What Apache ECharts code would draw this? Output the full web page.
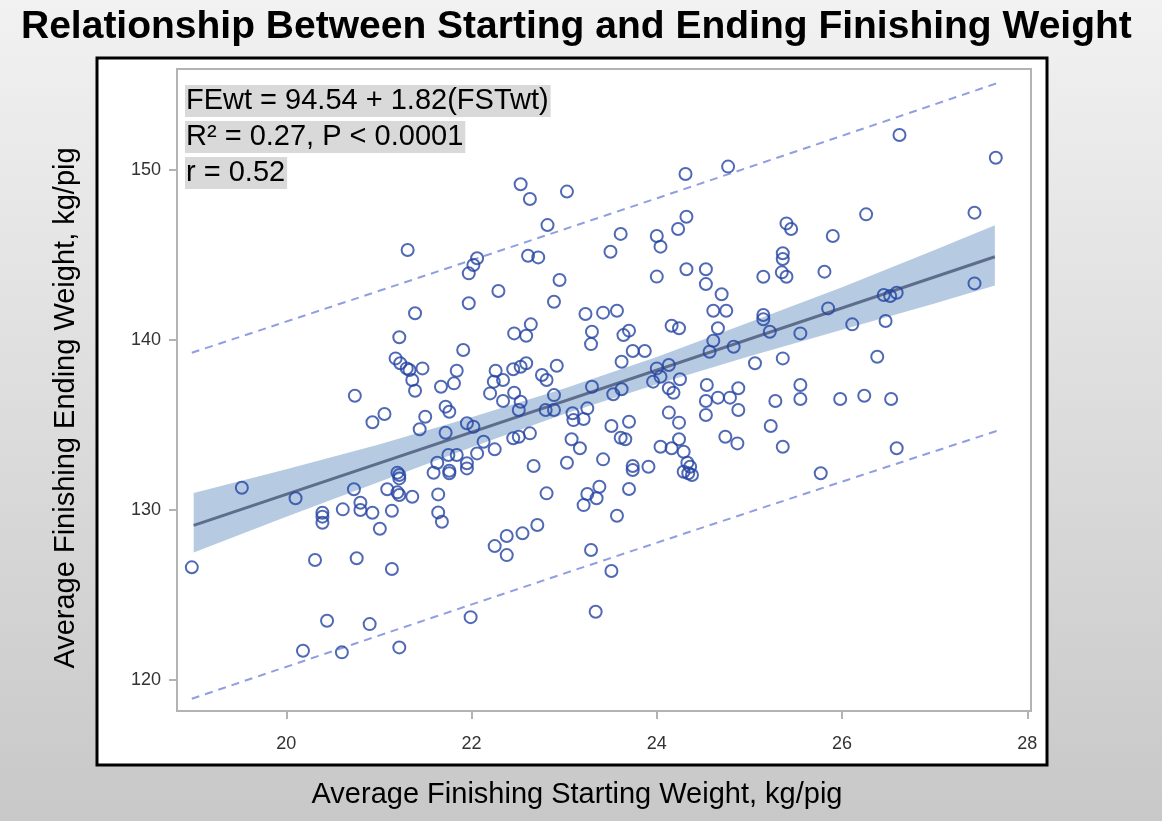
<!DOCTYPE html>
<html lang="en" style="height: 100%">
    <head>
        <meta charset="utf-8" />
    </head>
    <body style="height: 100%; margin: 0">
        <div id="container" style="width: 1162px; height: 821px"></div>

        <script
            type="text/javascript"
            src="https://fastly.jsdelivr.net/npm/echarts@6/dist/echarts.min.js"
        ></script>

        <script type="text/javascript">
            // starting weight (x) and ending weight (y) per pen
            var startWt = [
                18.98, 19.52, 20.10, 20.39, 20.39, 20.39, 20.61, 20.80, 20.80, 20.93,
                21.01, 21.09, 21.14, 21.20, 21.22, 21.22, 21.20, 21.22, 21.36, 21.63,
                21.59, 21.76, 21.76, 21.75, 21.84, 21.64, 21.64, 21.68, 21.95, 21.95,
                20.31, 20.76, 21.14, 20.44, 20.90, 20.18, 20.60, 21.22, 21.99, 20.73,
                21.31, 21.39, 21.22, 21.91, 21.97, 22.02, 22.06, 21.97, 21.18, 21.23,
                21.30, 21.33, 21.47, 21.36, 21.39, 20.74, 20.93, 21.06, 21.50, 21.44,
                21.67, 21.81, 21.84, 21.72, 21.76, 21.72, 21.95,
                22.53, 22.63, 23.03, 24.31, 24.77, 22.82, 23.61, 24.00, 24.04, 24.23,
                24.32, 23.50, 22.61, 22.72, 22.95, 24.00, 24.32, 24.53, 24.53, 24.70,
                24.61, 24.75, 24.66, 24.61, 24.57, 22.29, 22.89, 23.23, 23.42, 23.57,
                22.64, 22.46, 22.59, 23.30, 23.29, 23.70, 23.64, 24.16, 24.24, 23.74,
                23.87,
                23.62, 22.92, 22.59, 22.53, 22.45, 22.26, 22.24, 22.34, 22.76, 22.81,
                22.20, 22.34, 22.46, 22.53, 22.51, 22.89, 22.80, 22.89, 23.30, 23.53,
                23.62, 24.00, 24.13, 24.04, 23.96, 24.13, 24.18, 24.25, 24.54, 24.53,
                24.66, 24.79, 24.88, 24.88, 24.53, 24.83, 22.02, 23.09, 23.10, 23.21,
                23.25, 23.51, 23.70, 23.61, 23.66, 23.08, 23.17, 24.13, 24.24, 24.24,
                24.04, 24.16, 24.29, 24.74, 24.87, 22.45, 22.51, 22.63, 22.13, 22.25,
                22.06, 22.67, 23.03, 23.42, 23.74, 23.74, 23.91, 24.33, 24.36, 24.29,
                24.34, 24.38, 23.70, 23.38, 23.25, 23.35, 23.21, 22.81, 23.57, 22.71,
                22.55, 22.38,
                22.25, 22.38, 23.29, 23.51, 23.34,
                26.62, 27.66, 26.26, 27.43, 25.40, 25.45, 25.90, 25.36, 25.36, 25.35,
                25.40, 25.15, 25.81, 27.43,
                26.45, 26.52, 26.59, 25.15, 25.15, 25.85, 26.47, 26.11, 25.22, 25.55,
                25.06, 25.36, 26.38, 25.55, 25.28, 25.55, 25.98, 26.24, 26.53, 25.23,
                25.36, 26.59, 25.77
            ];
            var endWt = [
                126.63, 131.31, 130.69, 129.84, 129.61, 129.25, 130.04, 130.43, 130.00, 129.84,
                128.90, 131.22, 129.96, 132.20, 132.06, 131.86, 131.04, 130.88, 130.78, 132.78,
                132.19, 132.31, 132.16, 133.24, 133.24, 130.92, 129.86, 129.31, 132.75, 132.45,
                127.06, 127.16, 126.53, 123.49, 123.29, 121.72, 121.63, 121.92, 123.70, 131.22,
                145.29, 141.57, 140.16, 139.41, 143.92, 144.41, 144.81, 142.16, 138.92, 138.63,
                138.33, 138.24, 138.33, 137.65, 137.02, 136.72, 135.16, 135.65, 135.49, 134.75,
                137.25, 137.45, 138.19, 136.08, 135.78, 134.55, 135.10,
                149.16, 148.29, 148.73, 149.76, 150.20, 146.76, 146.24, 146.12, 145.49, 146.53,
                147.25, 145.19, 144.96, 144.86, 143.53, 143.73, 144.16, 144.16, 143.29, 142.69,
                141.72, 141.72, 140.69, 139.96, 139.31, 142.88, 142.25, 141.53, 141.61, 141.72,
                140.92, 140.39, 140.25, 140.49, 139.76, 140.55, 140.29, 140.84, 140.69, 139.35,
                139.35,
                138.72, 138.49, 138.63, 138.43, 138.28, 138.19, 137.55, 137.65, 137.94, 137.65,
                136.86, 136.41, 136.90, 136.37, 135.88, 136.76, 135.88, 135.88, 137.25, 136.81,
                137.10, 138.33, 138.53, 137.84, 137.55, 137.16, 136.90, 137.69, 137.35, 136.41,
                136.61, 136.61, 137.16, 135.88, 135.59, 139.60, 134.90, 135.69, 135.29, 135.35,
                135.98, 134.94, 135.19, 134.25, 134.16, 134.16, 133.63, 135.73, 135.14, 134.16,
                133.72, 133.63, 133.43, 134.31, 133.92, 134.22, 134.31, 134.51, 134.02, 133.57,
                133.33, 132.59, 132.78, 132.98, 132.59, 132.35, 132.55, 132.78, 132.55, 132.25,
                132.16, 132.06, 131.24, 131.37, 130.94, 130.69, 130.29, 130.98, 129.66, 129.12,
                128.63, 128.47,
                127.88, 127.35, 127.65, 126.41, 124.02,
                152.06, 150.72, 147.39, 147.49, 146.86, 146.53, 146.12, 145.10, 144.76, 143.98,
                143.72, 143.72, 144.02, 143.33,
                142.65, 142.59, 142.78, 141.47, 141.22, 141.86, 141.12, 140.92, 140.49, 140.39,
                138.63, 138.92, 139.02, 137.35, 136.41, 136.53, 136.53, 136.72, 136.53, 134.94,
                133.72, 133.63, 132.16
            ];

            // fitted line
            var fitX = [19.0, 27.65];
            var fitY = [129.1, 144.9];

            // 95% confidence band of the mean
            var bandX = [19.0, 20, 21, 22, 23, 24, 25, 26, 27, 27.65];
            var bandLower = [127.5, 129.6, 131.65, 133.7, 135.65, 137.4, 139.05, 140.6, 142.15, 143.2];
            var bandUpper = [131.0, 132.4, 133.85, 135.45, 137.15, 139.0, 141.05, 143.1, 145.3, 146.75];

            // 95% prediction limits
            var predX = [18.98, 23.46, 27.67];
            var predUpper = [139.25, 147.35, 155.1];
            var predLower = [118.9, 127.1, 134.65];

            var xTicks = [20, 22, 24, 26, 28];
            var yTicks = [120, 130, 140, 150];

            var statLines = [
                'FEwt = 94.54 + 1.82(FSTwt)',
                'R\u00b2 = 0.27, P < 0.0001',
                'r = 0.52'
            ];

            function pairs(xs, ys) {
                return xs.map(function (x, i) {
                    return [x, ys[i]];
                });
            }

            var dom = document.getElementById('container');
            var myChart = echarts.init(dom, null, { renderer: 'canvas' });
            var font = "'Liberation Sans', Arial, sans-serif";
            var frameColor = '#b3b3b3';

            var statBoxes = statLines.map(function (t, i) {
                return {
                    type: 'text',
                    left: 185,
                    top: [85, 121, 157][i],
                    z: 10,
                    style: {
                        text: t,
                        font: '29px ' + font,
                        fill: '#000',
                        backgroundColor: '#d9d9d9',
                        padding: [1, 2, 1, 1],
                        lineHeight: 30
                    }
                };
            });

            var option = {
                backgroundColor: {
                    type: 'linear',
                    x: 0, y: 0, x2: 0, y2: 1,
                    colorStops: [
                        { offset: 0, color: '#f2f2f2' },
                        { offset: 0.08, color: '#eeeeee' },
                        { offset: 1, color: '#c8c8c8' }
                    ]
                },
                animation: false,
                title: {
                    text: 'Relationship Between Starting and Ending Finishing Weight',
                    left: 16,
                    top: 3,
                    textStyle: {
                        fontFamily: font,
                        fontSize: 39,
                        fontWeight: 'bold',
                        color: '#000'
                    }
                },
                graphic: [
                    {
                        type: 'rect',
                        z: -5,
                        shape: { x: 97, y: 58, width: 950, height: 707 },
                        style: { fill: '#fff', stroke: '#000', lineWidth: 3 }
                    },
                    {
                        // x axis title, centred under the panel
                        type: 'text',
                        x: 577,
                        y: 795,
                        style: {
                            text: 'Average Finishing Starting Weight, kg/pig',
                            font: '29px ' + font,
                            fill: '#000',
                            align: 'center',
                            verticalAlign: 'middle'
                        }
                    },
                    {
                        // y axis title
                        type: 'text',
                        x: 66,
                        y: 408,
                        rotation: Math.PI / 2,
                        style: {
                            text: 'Average Finishing Ending Weight, kg/pig',
                            font: '29px ' + font,
                            fill: '#000',
                            align: 'center',
                            verticalAlign: 'middle'
                        }
                    }
                ].concat(statBoxes),
                grid: {
                    left: 177,
                    top: 69,
                    width: 854,
                    height: 642,
                    show: true,
                    borderColor: frameColor,
                    borderWidth: 2,
                    backgroundColor: 'transparent'
                },
                xAxis: {
                    type: 'value',
                    min: 18.82,
                    max: 28.04,
                    axisLine: { show: false },
                    splitLine: { show: false },
                    axisTick: {
                        customValues: xTicks,
                        length: 8,
                        lineStyle: { color: frameColor, width: 2 }
                    },
                    axisLabel: {
                        customValues: xTicks,
                        margin: 24,
                        fontFamily: font,
                        fontSize: 18,
                        color: '#333'
                    }
                },
                yAxis: {
                    type: 'value',
                    min: 118.18,
                    max: 155.94,
                    axisLine: { show: false },
                    splitLine: { show: false },
                    axisTick: {
                        customValues: yTicks,
                        length: 8,
                        lineStyle: { color: frameColor, width: 2 }
                    },
                    axisLabel: {
                        customValues: yTicks,
                        margin: 16,
                        fontFamily: font,
                        fontSize: 18,
                        color: '#333'
                    }
                },
                series: [
                    {
                        name: 'Confidence band',
                        type: 'custom',
                        z: 1,
                        data: bandX.map(function (x, i) {
                            return [x, bandLower[i], bandUpper[i]];
                        }),
                        encode: { x: 0, y: [1, 2] },
                        renderItem: function (params, api) {
                            if (params.dataIndex !== 0) return;
                            var pts = [];
                            for (var i = 0; i < bandX.length; i++) {
                                pts.push(api.coord([bandX[i], bandUpper[i]]));
                            }
                            for (var j = bandX.length - 1; j >= 0; j--) {
                                pts.push(api.coord([bandX[j], bandLower[j]]));
                            }
                            return {
                                type: 'polygon',
                                shape: { points: pts },
                                style: { fill: '#b6cbe2' }
                            };
                        }
                    },
                    {
                        name: 'Upper prediction',
                        type: 'line',
                        z: 2,
                        data: pairs(predX, predUpper),
                        symbol: 'none',
                        smooth: true,
                        lineStyle: { color: '#8f9fe0', width: 2, type: [8, 6] }
                    },
                    {
                        name: 'Lower prediction',
                        type: 'line',
                        z: 2,
                        data: pairs(predX, predLower),
                        symbol: 'none',
                        smooth: true,
                        lineStyle: { color: '#8f9fe0', width: 2, type: [8, 6] }
                    },
                    {
                        name: 'Fit',
                        type: 'line',
                        z: 3,
                        data: pairs(fitX, fitY),
                        symbol: 'none',
                        lineStyle: { color: '#5e6d8c', width: 3 }
                    },
                    {
                        name: 'Pens',
                        type: 'scatter',
                        z: 4,
                        data: pairs(startWt, endWt),
                        symbol: 'circle',
                        symbolSize: 12,
                        itemStyle: {
                            color: 'rgba(0,0,0,0)',
                            borderColor: '#2443a3',
                            borderWidth: 2
                        }
                    }
                ]
            };

            myChart.setOption(option);
            window.addEventListener('resize', myChart.resize);
        </script>
    </body>
</html>
